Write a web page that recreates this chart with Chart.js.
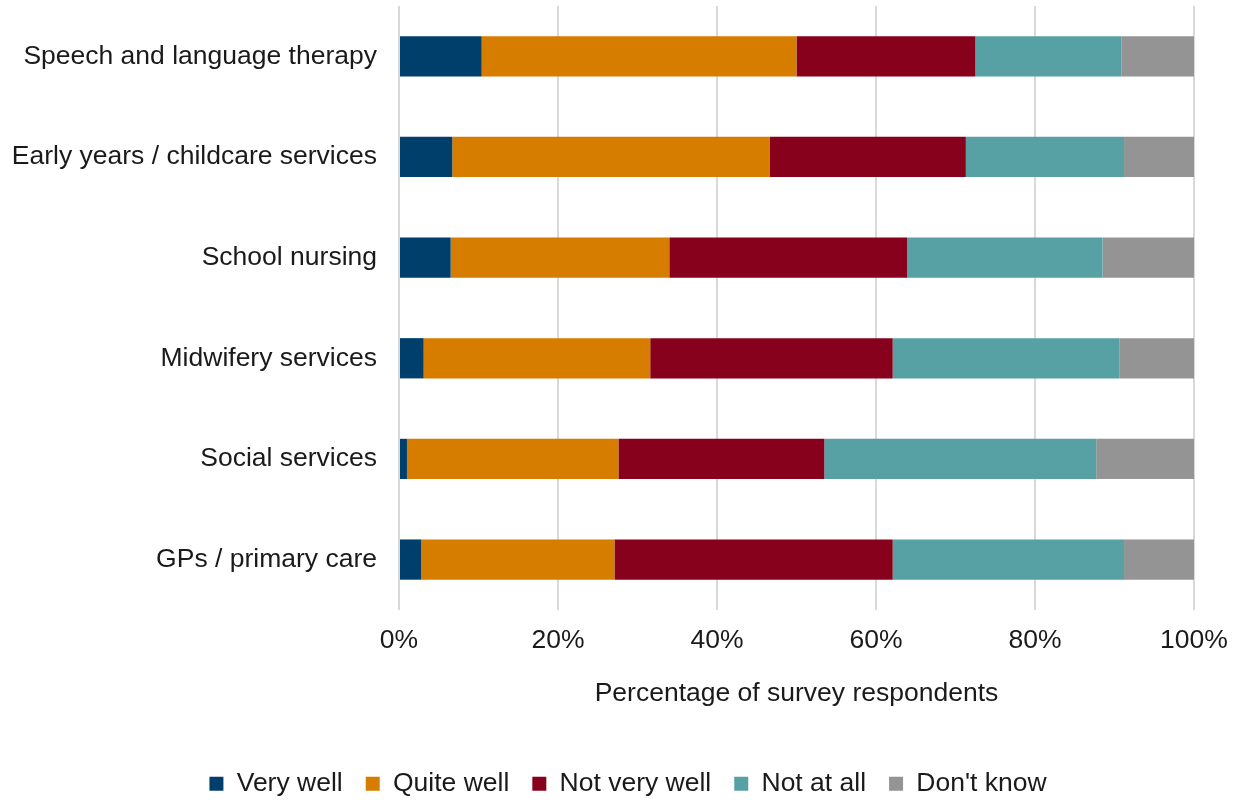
<!DOCTYPE html>
<html lang="en">
<head>
<meta charset="UTF-8">
<title>Percentage of survey respondents</title>
<script src="https://cdn.jsdelivr.net/npm/chart.js@4.4.1/dist/chart.umd.min.js"></script>
<style>
    html, body { margin: 0; padding: 0; background: #ffffff; overflow: hidden; }
    #wrap { width: 1236px; height: 807px; position: relative; }
</style>
</head>
<body>
<div id="wrap"><canvas id="servicesChart"></canvas></div>
<script>
// Categorias (eixo vertical)
const services = [
    'Speech and language therapy',
    'Early years / childcare services',
    'School nursing',
    'Midwifery services',
    'Social services',
    'GPs / primary care'
];

// Valores de cada resposta (%)
const veryWell = [10.4, 6.7, 6.5, 3.1, 1.0, 2.8];
const quiteWell = [39.6, 39.9, 27.5, 28.5, 26.6, 24.3];
const notVeryWell = [22.5, 24.7, 29.9, 30.5, 25.9, 35.0];
const notAtAll = [18.4, 19.9, 24.6, 28.5, 34.2, 29.1];
const dontKnow = [9.1, 8.8, 11.5, 9.4, 12.3, 8.8];

// Ticks do eixo horizontal
const percentTicks = [0, 20, 40, 60, 80, 100];

const textColor = '#1a1a1a';
const fontFamily = '"Liberation Sans", Arial, sans-serif';
const fontSize = 26.5;

function makeDataset(label, data, color) {
    return {
        label,
        data,
        backgroundColor: color,
        borderWidth: 0,
        barPercentage: 0.4,
        categoryPercentage: 1
    };
}

// Desloca a legenda para a direita (centralizada sob o grafico inteiro)
const legendShift = {
    id: 'legendShift',
    afterLayout(chart) {
        chart.legend.left += 31;
        chart.legend.right += 31;
    }
};

const ctx = document.getElementById('servicesChart').getContext('2d');
new Chart(ctx, {
    type: 'bar',
    data: {
        labels: services,
        datasets: [
            makeDataset('Very well', veryWell, '#003f6c'),
            makeDataset('Quite well', quiteWell, '#d67d00'),
            makeDataset('Not very well', notVeryWell, '#87001c'),
            makeDataset('Not at all', notAtAll, '#57a0a3'),
            makeDataset("Don't know", dontKnow, '#949494')
        ]
    },
    plugins: [legendShift],
    options: {
        indexAxis: 'y',
        responsive: true,
        maintainAspectRatio: false,
        animation: false,
        layout: {
            padding: { top: 6, left: 0, right: 42, bottom: 0 }
        },
        font: { family: fontFamily, size: fontSize },
        color: textColor,
        scales: {
            x: {
                stacked: true,
                min: 0,
                max: 100,
                afterBuildTicks: scale => {
                    scale.ticks = percentTicks.map(v => ({ value: v }));
                },
                afterFit: scale => {
                    scale.paddingLeft = 0;
                    scale.paddingRight = 0;
                },
                grid: {
                    color: '#d9d9d9',
                    lineWidth: 2,
                    drawTicks: false
                },
                border: { display: false },
                ticks: {
                    color: textColor,
                    font: { family: fontFamily, size: fontSize },
                    padding: 15,
                    callback: v => v + '%'
                },
                title: {
                    display: true,
                    text: 'Percentage of survey respondents',
                    color: textColor,
                    font: { family: fontFamily, size: fontSize },
                    padding: { top: 6, bottom: 38 }
                }
            },
            y: {
                stacked: true,
                grid: { display: false, drawTicks: false },
                border: { display: false },
                ticks: {
                    color: textColor,
                    font: { family: fontFamily, size: fontSize },
                    padding: 22
                },
                afterFit: scale => {
                    scale.width = 399;
                    scale.paddingTop = 0;
                    scale.paddingBottom = 0;
                }
            }
        },
        plugins: {
            legend: {
                position: 'bottom',
                labels: {
                    color: textColor,
                    font: { family: fontFamily, size: fontSize },
                    boxWidth: 14,
                    boxHeight: 14,
                    padding: 23
                }
            },
            tooltip: { enabled: false }
        }
    }
});
</script>
</body>
</html>
